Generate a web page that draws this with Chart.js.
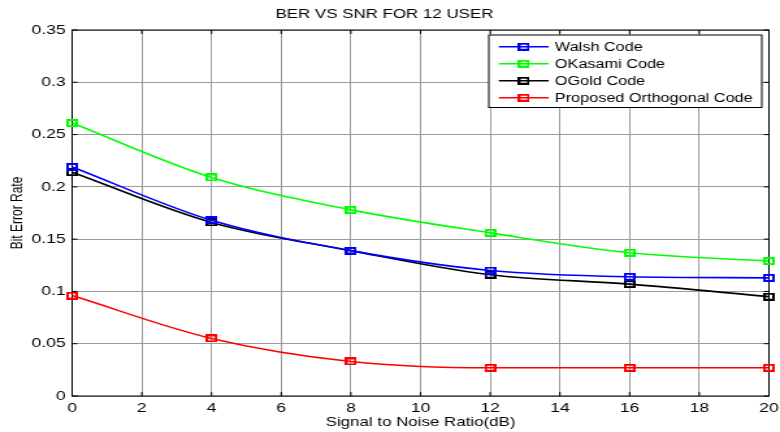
<!DOCTYPE html>
<html>
<head>
<meta charset="utf-8">
<title>BER vs SNR</title>
<script src="https://cdn.jsdelivr.net/npm/chart.js@4.4.1/dist/chart.umd.min.js"></script>
<style>
    html, body { margin: 0; padding: 0; background: #fff; overflow: hidden; }
    /* figure is laid out narrow and widened horizontally */
    #wrap { width: 600px; height: 432px; transform: scaleX(1.3); transform-origin: 0 0; }
</style>
</head>
<body>
<div id="wrap"><canvas id="berChart"></canvas></div>
<script>
const snr = [0, 4, 8, 12, 16, 20];
const walsh = [0.219, 0.168, 0.139, 0.120, 0.114, 0.113];
const okasami = [0.261, 0.209, 0.178, 0.156, 0.137, 0.129];
const ogold = [0.214, 0.166, 0.139, 0.116, 0.107, 0.095];
const proposed = [0.096, 0.055, 0.033, 0.027, 0.027, 0.027];

const seriesNames = ['Walsh Code', 'OKasami Code', 'OGold Code', 'Proposed Orthogonal Code'];
const seriesColors = ['#0000ff', '#00ff00', '#000000', '#ff0000'];

const xTicks = [0, 2, 4, 6, 8, 10, 12, 14, 16, 18, 20];
const yTicks = [0, 0.05, 0.1, 0.15, 0.2, 0.25, 0.3, 0.35];

const FONT = '"Liberation Sans", Arial, sans-serif';

// hollow square marker, wider than tall
function squareMarker(color) {
    const c = document.createElement('canvas');
    c.width = 9;
    c.height = 8;
    const g = c.getContext('2d');
    g.strokeStyle = color;
    g.lineWidth = 2;
    g.strokeRect(1, 1, 7, 6);
    return c;
}

const markers = seriesColors.map(squareMarker);

function makeDataset(name, values, i) {
    return {
        label: name,
        data: snr.map((x, k) => ({ x: x, y: values[k] })),
        borderColor: seriesColors[i],
        backgroundColor: seriesColors[i],
        borderWidth: 1.6,
        cubicInterpolationMode: 'monotone',
        pointStyle: markers[i],
        pointRadius: 4,
        clip: false
    };
}

// axes box with small inward ticks on every side
const frameBox = {
    id: 'frameBox',
    beforeDatasetsDraw(chart) {
        const { ctx, chartArea: a, scales } = chart;
        ctx.save();
        ctx.strokeStyle = '#000';
        ctx.lineWidth = 1;
        ctx.strokeRect(a.left, a.top, a.right - a.left, a.bottom - a.top);
        ctx.beginPath();
        xTicks.forEach(v => {
            const px = scales.x.getPixelForValue(v);
            ctx.moveTo(px, a.bottom); ctx.lineTo(px, a.bottom - 4);
            ctx.moveTo(px, a.top); ctx.lineTo(px, a.top + 4);
        });
        yTicks.forEach(v => {
            const py = scales.y.getPixelForValue(v);
            ctx.moveTo(a.left, py); ctx.lineTo(a.left + 4, py);
            ctx.moveTo(a.right, py); ctx.lineTo(a.right - 4, py);
        });
        ctx.stroke();
        ctx.restore();
    }
};

// legend box in the upper right corner of the plot
const boxLegend = {
    id: 'boxLegend',
    afterDraw(chart) {
        const { ctx, chartArea: a } = chart;
        const sets = chart.data.datasets;
        ctx.save();
        ctx.font = '12.5px ' + FONT;
        const maxW = Math.max(...sets.map(d => ctx.measureText(d.label).width));
        const textOff = 50.8;
        const w = textOff + maxW + 7;
        const h = 72.5;
        const left = a.right - 5.5 - w;
        const top = a.top + 5;
        ctx.fillStyle = '#fff';
        ctx.fillRect(left, top, w, h);
        ctx.strokeStyle = '#000';
        ctx.lineWidth = 1;
        ctx.strokeRect(left, top, w, h);
        ctx.textBaseline = 'middle';
        sets.forEach((d, i) => {
            const y = top + 11.7 + i * 17;
            ctx.strokeStyle = d.borderColor;
            ctx.lineWidth = 1.6;
            ctx.beginPath();
            ctx.moveTo(left + 7.7, y);
            ctx.lineTo(left + 46, y);
            ctx.stroke();
            const m = d.pointStyle;
            ctx.drawImage(m, left + 26.9 - m.width / 2, y - m.height / 2);
            ctx.fillStyle = '#000';
            ctx.fillText(d.label, left + textOff, y + 0.5);
        });
        ctx.restore();
    }
};

const chart = new Chart(document.getElementById('berChart'), {
    type: 'line',
    data: {
        datasets: [
            makeDataset(seriesNames[0], walsh, 0),
            makeDataset(seriesNames[1], okasami, 1),
            makeDataset(seriesNames[2], ogold, 2),
            makeDataset(seriesNames[3], proposed, 3)
        ]
    },
    options: {
        responsive: true,
        maintainAspectRatio: false,
        animation: false,
        layout: { padding: { left: 0, right: 8.5, top: 0, bottom: 0 } },
        plugins: {
            legend: { display: false },
            tooltip: { enabled: false },
            title: {
                display: true,
                text: 'BER VS SNR FOR 12 USER',
                color: '#000',
                font: { family: FONT, size: 13, weight: 'normal' },
                padding: { top: 7, bottom: 7.4 }
            }
        },
        scales: {
            x: {
                type: 'linear',
                min: 0,
                max: 20,
                afterBuildTicks: scale => { scale.ticks = xTicks.map(v => ({ value: v })); },
                afterFit: scale => {
                    scale.height = 36;
                    scale.paddingRight = 0;
                },
                ticks: {
                    color: '#000',
                    padding: 4.5,
                    maxRotation: 0,
                    font: { family: FONT, size: 13.5 }
                },
                grid: { color: '#9a9a9a', drawTicks: false },
                border: { display: false },
                title: {
                    display: true,
                    text: 'Signal to Noise Ratio(dB)',
                    color: '#000',
                    font: { family: FONT, size: 13 },
                    padding: { top: 0, bottom: 2 }
                }
            },
            y: {
                min: 0,
                max: 0.35,
                afterBuildTicks: scale => { scale.ticks = yTicks.map(v => ({ value: v })); },
                afterFit: scale => { scale.width = 55.5; },
                ticks: {
                    color: '#000',
                    padding: 5,
                    font: { family: FONT, size: 13.5 },
                    callback: v => String(+v.toFixed(2))
                },
                grid: { color: '#9a9a9a', drawTicks: false },
                border: { display: false },
                title: {
                    display: true,
                    text: 'Bit Error Rate',
                    color: '#000',
                    font: { family: FONT, size: 12 },
                    padding: { top: 6, bottom: 0 }
                }
            }
        }
    },
    plugins: [frameBox, boxLegend]
});
</script>
</body>
</html>
